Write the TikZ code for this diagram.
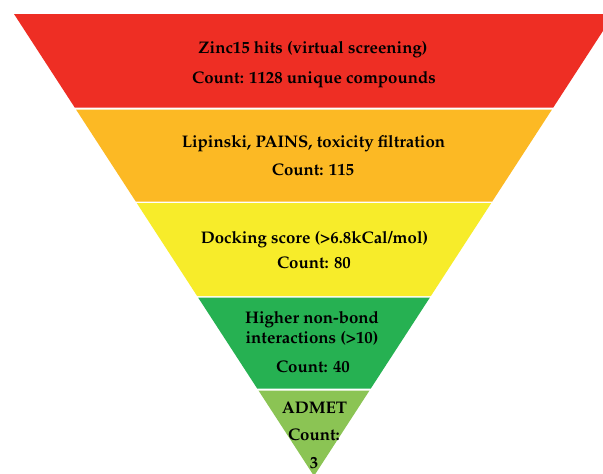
\documentclass[tikz,border=0pt]{standalone}
\usepackage[T1]{fontenc}
\usepackage{mathpazo}
\definecolor{cRed}{RGB}{238,46,36}
\definecolor{cOrange}{RGB}{252,185,36}
\definecolor{cYellow}{RGB}{247,236,42}
\definecolor{cGreen}{RGB}{38,177,82}
\definecolor{cLight}{RGB}{139,196,84}
\newcommand{\funnelband}[3]{%
  \pgfmathsetmacro\fxa{14+0.64935*(#1-14)}%
  \pgfmathsetmacro\fxb{614-0.64935*(#1-14)}%
  \pgfmathsetmacro\fxc{14+0.64935*(#2-14)}%
  \pgfmathsetmacro\fxd{614-0.64935*(#2-14)}%
  \fill[#3] (\fxa,#1) -- (\fxb,#1) -- (\fxd,#2) -- (\fxc,#2) -- cycle;}
\begin{document}
\begin{tikzpicture}[x=1pt,y=-1pt,
  lbl/.style={anchor=base,inner sep=0pt,font=\bfseries\fontsize{16.8}{19}\selectfont,text=black}]
\useasboundingbox (0,0) rectangle (603,474);
\clip (0,0) rectangle (603,474);
\fill[white] (0,0) rectangle (603,474);
\funnelband{14}{107.5}{cRed}
\funnelband{109.5}{201.5}{cOrange}
\funnelband{203}{296}{cYellow}
\funnelband{297.5}{388.5}{cGreen}
\funnelband{390.5}{476}{cLight}
\node[lbl] (r1) at (313,53) {Zinc15 hits (virtual screening)};
\node[lbl] (r2) at (314,83) {Count: 1128 unique compounds};
\node[lbl] (o1) at (313.5,147) {Lipinski, PAINS, toxicity filtration};
\node[lbl] (o2) at (313,175) {Count: 115};
\node[lbl] (y1) at (314.5,243) {Docking score (>6.8kCal/mol)};
\node[lbl] (y2) at (314,268) {Count: 80};
\node[lbl] (g1) at (312,323) {Higher non-bond};
\node[lbl] (g2) at (312,343) {interactions (>10)};
\node[lbl] (g3) at (313,372) {Count: 40};
\node[lbl] (l1) at (314.5,413) {ADMET};
\node[lbl] (l2) at (314,440) {Count:};
\node[lbl] (l3) at (314,468) {3};
\end{tikzpicture}
\end{document}
